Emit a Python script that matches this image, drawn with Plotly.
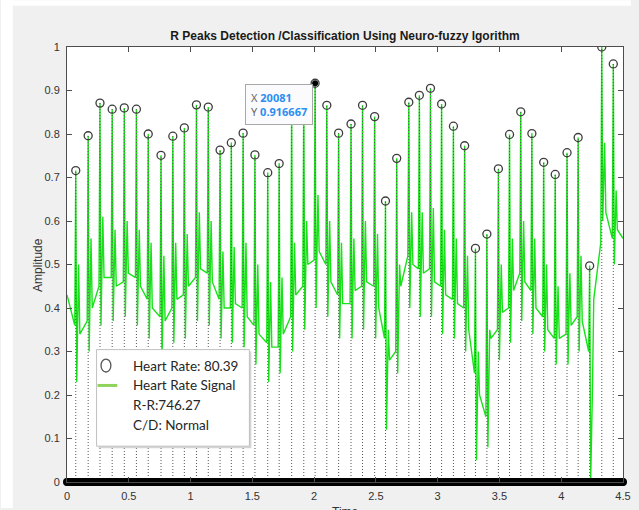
import numpy as np
import plotly.graph_objects as go

# ---- R-peak positions (samples) and amplitudes ----
r_peak_x = [709, 1713, 2669, 3657, 4637, 5617, 6574, 7609, 8566, 9498,
            10478, 11434, 12390, 13299, 14255, 15211, 16247, 17171, 18183, 19163,
            20081, 21028, 21984, 22988, 23920, 24900, 25776, 26685, 27665, 28518,
            29418, 30318, 31275, 32183, 33059, 33983, 34916, 35816, 36725, 37625,
            38581, 39514, 40470, 41370, 42302, 43282, 44214]
r_peak_y = [0.716, 0.796, 0.871, 0.857, 0.860, 0.857, 0.800, 0.751, 0.795, 0.814,
            0.867, 0.862, 0.763, 0.780, 0.802, 0.752, 0.711, 0.732, 0.860, 0.880,
            0.916667, 0.866, 0.802, 0.823, 0.866, 0.840, 0.646, 0.744, 0.873, 0.889,
            0.905, 0.869, 0.818, 0.773, 0.537, 0.570, 0.720, 0.799, 0.851, 0.801,
            0.735, 0.707, 0.757, 0.792, 0.497, 1.000, 0.961]

# ---- ECG levels around each beat ----
pre_level = [0.36, 0.37, 0.45, 0.47, 0.46, 0.47, 0.42, 0.38, 0.40, 0.43,
             0.47, 0.48, 0.42, 0.40, 0.40, 0.36, 0.32, 0.31, 0.38, 0.45,
             0.51, 0.50, 0.43, 0.41, 0.45, 0.45, 0.33, 0.30, 0.52, 0.49,
             0.49, 0.45, 0.42, 0.40, 0.25, 0.15, 0.35, 0.40, 0.48, 0.44,
             0.38, 0.33, 0.34, 0.38, 0.30, 0.55, 0.56]
s_level = [0.23, 0.30, 0.36, 0.37, 0.38, 0.36, 0.33, 0.28, 0.32, 0.33,
           0.37, 0.36, 0.33, 0.32, 0.31, 0.27, 0.23, 0.25, 0.30, 0.35,
           0.40, 0.38, 0.33, 0.33, 0.35, 0.33, 0.12, 0.25, 0.40, 0.38,
           0.38, 0.34, 0.33, 0.30, 0.05, 0.08, 0.28, 0.32, 0.37, 0.34,
           0.30, 0.27, 0.27, 0.30, 0.00, 0.60, 0.50]
t_level = [0.50, 0.56, 0.61, 0.58, 0.60, 0.58, 0.55, 0.52, 0.55, 0.57,
           0.62, 0.60, 0.53, 0.54, 0.55, 0.50, 0.46, 0.47, 0.55, 0.60,
           0.66, 0.60, 0.55, 0.56, 0.60, 0.57, 0.35, 0.50, 0.62, 0.62,
           0.63, 0.58, 0.56, 0.52, 0.30, 0.35, 0.50, 0.56, 0.60, 0.56,
           0.50, 0.45, 0.48, 0.52, 0.22, 0.78, 0.67]
post_level = [0.34, 0.40, 0.47, 0.45, 0.48, 0.45, 0.40, 0.37, 0.42, 0.45,
              0.49, 0.46, 0.40, 0.41, 0.38, 0.34, 0.31, 0.34, 0.43, 0.50,
              0.53, 0.46, 0.41, 0.44, 0.46, 0.40, 0.28, 0.45, 0.50, 0.48,
              0.46, 0.43, 0.41, 0.35, 0.20, 0.33, 0.39, 0.44, 0.46, 0.40,
              0.35, 0.33, 0.36, 0.37, 0.42, 0.62, 0.58]
signal_start = 0.43
signal_end = 0.56
n_samples = 45000

x_tick_vals = [0, 5000, 10000, 15000, 20000, 25000, 30000, 35000, 40000, 45000]
x_tick_text = ["0", "0.5", "1", "1.5", "2", "2.5", "3", "3.5", "4", "4.5"]
y_tick_vals = [0, 0.1, 0.2, 0.3, 0.4, 0.5, 0.6, 0.7, 0.8, 0.9, 1]
y_tick_text = ["0", "0.1", "0.2", "0.3", "0.4", "0.5", "0.6", "0.7", "0.8", "0.9", "1"]

heart_rate = 80.39
rr_interval = 746.27
diagnosis = "Normal"
tip_x, tip_y = 20081, 0.916667

# ---- assemble the ECG trace: pre level, R, S, secondary wave, recovery ----
sig_x, sig_y = [0], [signal_start]
for rx, ry, a, s, t, b in zip(r_peak_x, r_peak_y, pre_level, s_level, t_level, post_level):
    sig_x += [rx - 80, rx, rx + 80, rx + 230, rx + 330]
    sig_y += [a, ry, s, t, b]
sig_x.append(n_samples)
sig_y.append(signal_end)

# stems from the baseline to each R peak
stem_x, stem_y = [], []
for rx, ry in zip(r_peak_x, r_peak_y):
    stem_x += [rx, rx, None]
    stem_y += [0, ry, None]

# zero-valued samples of the detection output
zero_x = np.arange(0, n_samples + 1, 60)
zero_y = np.zeros(len(zero_x))

W, H = 639, 510
ML, MR, MT, MB = 67, 8, 47, 26
PW, PH = W - ML - MR, H - MT - MB


def px(xp):
    return (xp - ML) / PW


def py(yp):
    return (H - MB - yp) / PH


fig = go.Figure()
fig.add_trace(go.Scatter(x=sig_x, y=sig_y, mode="lines",
                         line=dict(color="rgb(25,225,25)", width=1.4),
                         hoverinfo="skip", showlegend=False))
fig.add_trace(go.Scatter(x=stem_x, y=stem_y, mode="lines",
                         line=dict(color="rgb(85,85,85)", width=1, dash="1px,2px"),
                         hoverinfo="skip", showlegend=False))
fig.add_trace(go.Scatter(x=r_peak_x, y=r_peak_y, mode="markers",
                         marker=dict(symbol="circle-open", size=8,
                                     color="rgb(60,60,60)", line=dict(width=1.3)),
                         showlegend=False))
fig.add_trace(go.Scatter(x=zero_x, y=zero_y, mode="markers", cliponaxis=False,
                         marker=dict(symbol="circle", size=8, color="black",
                                     line=dict(width=0)),
                         hoverinfo="skip", showlegend=False))
fig.add_trace(go.Scatter(x=[tip_x], y=[tip_y], mode="markers", cliponaxis=False,
                         marker=dict(symbol="circle", size=6, color="black"),
                         showlegend=False))

axis_style = dict(showline=True, linecolor="#4d4d4d", linewidth=1, mirror="ticks",
                  ticks="inside", ticklen=5, tickcolor="#4d4d4d", showgrid=False,
                  zeroline=False,
                  tickfont=dict(family="Liberation Sans, Arial, sans-serif",
                                size=11, color="#333333"))

fig.update_layout(
    width=W, height=H,
    margin=dict(l=ML, r=MR, t=MT, b=MB, pad=0),
    paper_bgcolor="#f0f0f0", plot_bgcolor="white",
    showlegend=False,
    title=dict(text="<b>R Peaks Detection /Classification Using Neuro-fuzzy lgorithm</b>",
               x=0.5, xref="paper", y=1 - 36 / H, yref="container",
               xanchor="center", yanchor="middle",
               font=dict(family="Liberation Sans, Arial, sans-serif", size=12,
                         color="#1a1a1a")),
    xaxis=dict(range=[0, n_samples], tickvals=x_tick_vals, ticktext=x_tick_text,
               ticklabelstandoff=4, **axis_style),
    yaxis=dict(range=[0, 1], tickvals=y_tick_vals, ticktext=y_tick_text,
               ticklabelstandoff=4, **axis_style),
)

shapes = [
    # white margin strips of the window
    dict(type="rect", xref="paper", yref="paper", x0=px(0), x1=px(12), y0=py(H), y1=py(0),
         fillcolor="white", line=dict(width=0), layer="below"),
    dict(type="rect", xref="paper", yref="paper", x0=px(0), x1=px(W), y0=py(5.5), y1=py(0),
         fillcolor="white", line=dict(width=0), layer="below"),
    # legend shadow and box
    dict(type="rect", xref="paper", yref="paper", x0=px(99), x1=px(254), y0=py(450), y1=py(353),
         fillcolor="#d4d4d4", line=dict(width=0)),
    dict(type="rect", xref="paper", yref="paper", x0=px(97), x1=px(252), y0=py(448), y1=py(351),
         fillcolor="white", line=dict(color="#c0c0c0", width=1)),
    # legend symbols
    dict(type="circle", xref="paper", yref="paper", x0=px(101.5), x1=px(111.5),
         y0=py(373.5), y1=py(360.5), line=dict(color="#555555", width=1.3)),
    dict(type="line", xref="paper", yref="paper", x0=px(98), x1=px(118),
         y0=py(387), y1=py(387), line=dict(color="#8fd35a", width=3)),
]
fig.update_layout(shapes=shapes)

legend_font = dict(family="Lato, Carlito, sans-serif", size=13.5, color="#262626")
legend_lines = [f"Heart Rate: {heart_rate:.2f}", "Heart Rate Signal",
                f"R-R:{rr_interval:.2f}", f"C/D: {diagnosis}"]
annotations = []
for i, txt in enumerate(legend_lines):
    annotations.append(dict(text=txt, xref="paper", yref="paper", x=px(132),
                            y=py(367 + 20 * i), xanchor="left", yanchor="middle",
                            showarrow=False, font=legend_font))

annotations.append(dict(
    text="Amplitude", textangle=-90, xref="paper", yref="paper", x=px(37), y=0.5,
    xanchor="center", yanchor="middle", showarrow=False,
    font=dict(family="Liberation Sans, Arial, sans-serif", size=12, color="#333333")))
annotations.append(dict(
    text="Time", xref="paper", yref="paper", x=0.5, y=py(505), xanchor="center",
    yanchor="top", showarrow=False,
    font=dict(family="Liberation Sans, Arial, sans-serif", size=12, color="#333333")))

# data cursor
annotations.append(dict(
    text=(f"<span style='color:#666666'>X</span> <b><span style='color:#2b8ef0'>{tip_x}</span></b><br>"
          f"<span style='color:#666666'>Y</span> <b><span style='color:#2b8ef0'>{tip_y:g}</span></b>"),
    x=tip_x, y=tip_y, xref="x", yref="y", xanchor="right", yanchor="top",
    xshift=-2, yshift=-1, showarrow=False, align="left",
    bgcolor="#fbfbfd", bordercolor="#a8a8a8", borderwidth=1, borderpad=5,
    font=dict(family="Noto Sans, sans-serif", size=11)))
fig.update_layout(annotations=annotations)

fig.write_html("out.html")
